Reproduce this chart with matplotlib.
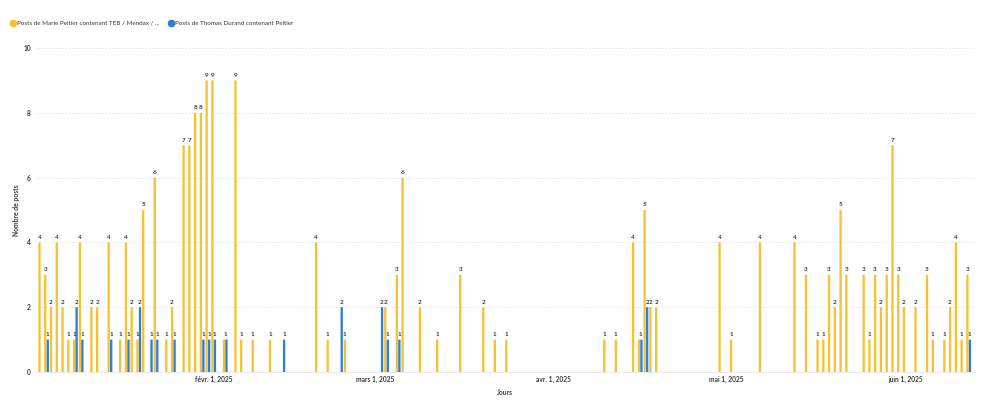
import matplotlib
matplotlib.use("Agg")
import matplotlib.pyplot as plt
import matplotlib.dates as mdates
from matplotlib.lines import Line2D
import pandas as pd

plt.rcParams['font.family'] = ['Lato', 'DejaVu Sans']

# Posts de Marie Peltier (jaune)
marie_dates = [
    "2025-01-02", "2025-01-03", "2025-01-04", "2025-01-05", "2025-01-06", "2025-01-07",
    "2025-01-08", "2025-01-09", "2025-01-11", "2025-01-12", "2025-01-14", "2025-01-16",
    "2025-01-17", "2025-01-18", "2025-01-19", "2025-01-20", "2025-01-22", "2025-01-24",
    "2025-01-25", "2025-01-27", "2025-01-28", "2025-01-29", "2025-01-30", "2025-01-31",
    "2025-02-01", "2025-02-03", "2025-02-05", "2025-02-06", "2025-02-08", "2025-02-11",
    "2025-02-19", "2025-02-21", "2025-02-24", "2025-03-03", "2025-03-05", "2025-03-06",
    "2025-03-09", "2025-03-12", "2025-03-16", "2025-03-20", "2025-03-22", "2025-03-24",
    "2025-04-10", "2025-04-12", "2025-04-15", "2025-04-16", "2025-04-17", "2025-04-18",
    "2025-04-19", "2025-04-30", "2025-05-02", "2025-05-07", "2025-05-13", "2025-05-15",
    "2025-05-17", "2025-05-18", "2025-05-19", "2025-05-20", "2025-05-21", "2025-05-22",
    "2025-05-25", "2025-05-26", "2025-05-27", "2025-05-28", "2025-05-29", "2025-05-30",
    "2025-05-31", "2025-06-01", "2025-06-03", "2025-06-05", "2025-06-06", "2025-06-08",
    "2025-06-09", "2025-06-10", "2025-06-11", "2025-06-12",
]
marie_counts = [
    4, 3, 2, 4, 2, 1,
    1, 4, 2, 2, 4, 1,
    4, 2, 1, 5, 6, 1,
    2, 7, 7, 8, 8, 9,
    9, 1, 9, 1, 1, 1,
    4, 1, 1, 2, 3, 6,
    2, 1, 3, 2, 1, 1,
    1, 1, 4, 1, 5, 2,
    2, 4, 1, 4, 4, 3,
    1, 1, 3, 2, 5, 3,
    3, 1, 3, 2, 3, 7,
    3, 2, 2, 3, 1, 1,
    2, 4, 1, 3,
]

# Posts de Thomas Durand (bleu)
thomas_dates = [
    "2025-01-03", "2025-01-08", "2025-01-09", "2025-01-14", "2025-01-17", "2025-01-19",
    "2025-01-21", "2025-01-22", "2025-01-25", "2025-01-30", "2025-01-31", "2025-02-01",
    "2025-02-03", "2025-02-13", "2025-02-23", "2025-03-02", "2025-03-03", "2025-03-05",
    "2025-04-16", "2025-04-17", "2025-06-12",
]
thomas_counts = [
    1, 2, 1, 1, 1, 2,
    1, 1, 1, 1, 1, 1,
    1, 1, 2, 2, 1, 1,
    1, 2, 1,
]

tick_dates = ["2025-02-01", "2025-03-01", "2025-04-01", "2025-05-01", "2025-06-01"]
tick_labels = ["févr. 1, 2025", "mars 1, 2025", "avr. 1, 2025", "mai 1, 2025", "juin 1, 2025"]

label_marie = "Posts de Marie Peltier contenant TEB / Mendax / ..."
label_thomas = "Posts de Thomas Durand contenant Peltier"

YELLOW = "#F6C232"
BLUE = "#2F7DD6"
TXT = "#3a3a3a"

x_m = mdates.date2num(pd.to_datetime(marie_dates))
x_t = mdates.date2num(pd.to_datetime(thomas_dates))
x_ticks = mdates.date2num(pd.to_datetime(tick_dates))
x_start = mdates.date2num(pd.Timestamp("2025-01-01"))

fig = plt.figure(figsize=(10, 4.01), dpi=100)
ax = fig.add_axes([0.035, 1 - 372 / 401, 0.94, (372 - 48) / 401])

w = 0.40
off = 0.22
ax.bar(x_m - off, marie_counts, width=w, color=YELLOW, zorder=3, snap=False)
ax.bar(x_t + off, thomas_counts, width=w, color=BLUE, zorder=3, snap=False)

# value labels; when both series have the same value on one day the labels overlap
thomas_set = set(zip(x_t, thomas_counts))
for x, v in zip(x_m, marie_counts):
    lx = x if (x, v) in thomas_set else x - off
    ax.text(lx, v + 0.08, str(v), ha="center", va="bottom", fontsize=4.6,
            fontweight="bold", color=TXT, zorder=4)
marie_set = set(zip(x_m, marie_counts))
for x, v in zip(x_t, thomas_counts):
    if (x, v) in marie_set:
        continue
    ax.text(x + off, v + 0.08, str(v), ha="center", va="bottom", fontsize=4.6,
            fontweight="bold", color=TXT, zorder=4)

ax.set_xlim(x_start, x_start + 163.1)
ax.set_ylim(0, 10)
ax.set_yticks([0, 2, 4, 6, 8, 10])
ax.set_xticks(x_ticks)
ax.set_xticklabels(tick_labels)
ax.tick_params(axis="both", length=0, labelsize=4.8, colors=TXT, pad=3)
for lab in ax.get_xticklabels() + ax.get_yticklabels():
    lab.set_fontweight("bold")

ax.grid(axis="y", color="#e3e3e3", linestyle=(0, (2, 2)), linewidth=0.6, zorder=0)
for s in ["top", "right", "left"]:
    ax.spines[s].set_visible(False)
ax.spines["bottom"].set_color("#e6e6e6")
ax.spines["bottom"].set_linewidth(0.6)

ax.set_xlabel("Jours", fontsize=4.9, fontweight="bold", color=TXT, labelpad=4)
ax.set_ylabel("Nombre de posts", fontsize=4.9, fontweight="bold", color=TXT, labelpad=2)

handles = [
    Line2D([], [], marker="o", linestyle="", markersize=4.5, color=YELLOW),
    Line2D([], [], marker="o", linestyle="", markersize=4.5, color=BLUE),
]
fig.legend(handles, [label_marie, label_thomas], loc="center left",
           bbox_to_anchor=(0.004, 1 - 23 / 401), ncol=2, frameon=False,
           fontsize=4.5, handletextpad=0.25, columnspacing=1.2, labelcolor=TXT,
           handlelength=1.0)

fig.savefig("out.png", dpi=100)
